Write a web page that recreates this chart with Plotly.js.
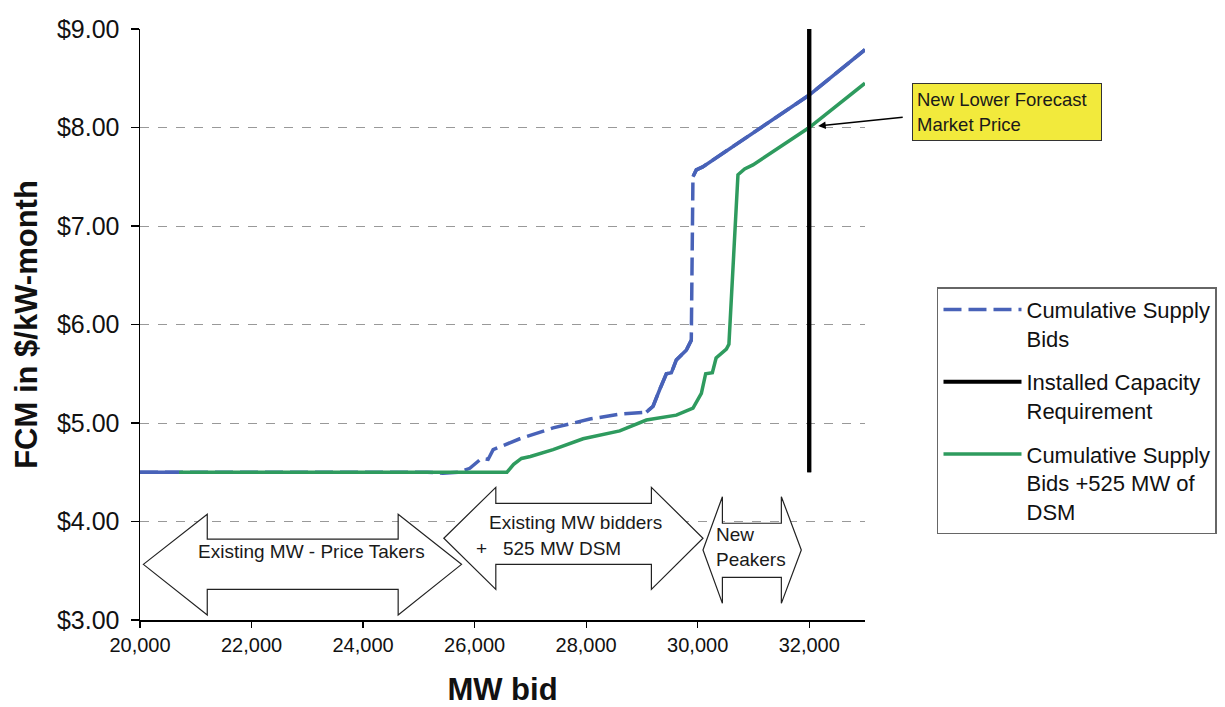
<!DOCTYPE html>
<html>
<head>
<meta charset="utf-8">
<script src="https://cdn.plot.ly/plotly-3.0.1.min.js"></script>
<style>html,body{margin:0;padding:0;background:#fff;}#chart{width:1225px;height:707px;}</style>
</head>
<body>
<div id="chart"></div>
<script>
// ---- data ----
var blueX = [20000, 20700, 25150, 25430, 25700, 25914, 26000, 26123, 26242, 26332, 26810, 27407, 28065, 28602, 29080, 29200, 29319, 29438, 29528, 29617, 29797, 29885, 29915, 29975, 30090, 32000, 33000];
var blueY = [4.50, 4.50, 4.50, 4.49, 4.50, 4.54, 4.58, 4.64, 4.63, 4.73, 4.84, 4.95, 5.04, 5.09, 5.11, 5.17, 5.34, 5.50, 5.51, 5.64, 5.74, 5.84, 7.50, 7.57, 7.60, 8.33, 8.79];
var blueSolidRanges = [[0, 1], [14, 21], [22, 26]];

var greenX = [20700, 26580, 26700, 26840, 27000, 27407, 27945, 28602, 29080, 29617, 29916, 30066, 30143, 30263, 30330, 30514, 30560, 30722, 30842, 30991, 32000, 33000];
var greenY = [4.50, 4.50, 4.58, 4.64, 4.66, 4.73, 4.84, 4.92, 5.03, 5.08, 5.15, 5.30, 5.50, 5.51, 5.66, 5.75, 5.80, 7.52, 7.58, 7.62, 8.00, 8.45];

var reqX = [32000, 32000];
var reqY = [4.50, 9.05];

var seriesNames = ["Cumulative Supply<br>Bids", "Installed Capacity<br>Requirement", "Cumulative Supply<br>Bids +525 MW of<br>DSM"];

// block arrows: [leftTip, leftHead, rightHead, rightTip, yMid, headTop, headBottom, shaftTop, shaftBottom]
var arrowSpecs = [
  [20060, 21206, 24629, 25765, 3.565, 4.073, 3.05, 3.822, 3.31],
  [25448, 26380, 29170, 30095, 3.83, 4.347, 3.311, 4.185, 3.565],
  [30095, 30443, 31500, 31858, 3.711, 4.252, 3.169, 3.982, 3.433]
];

var xTickVals = [20000, 22000, 24000, 26000, 28000, 30000, 32000];
var yTickVals = [3, 4, 5, 6, 7, 8, 9];
var yTickText = yTickVals.map(function (v) { return '$' + v.toFixed(2); });

var BLUE = '#4862b8', GREEN = '#2e9b5e';
var FONT = 'Arial, "Liberation Sans", sans-serif';

var traces = [];
traces.push({
  x: blueX, y: blueY, mode: 'lines', name: seriesNames[0],
  legendgroup: 'a',
  line: {color: BLUE, width: 3.5, dash: '18px,7px'}, hoverinfo: 'skip'
});
blueSolidRanges.forEach(function (r) {
  traces.push({
    x: blueX.slice(r[0], r[1] + 1), y: blueY.slice(r[0], r[1] + 1), mode: 'lines',
    showlegend: false, legendgroup: 'a', line: {color: BLUE, width: 3.5}, hoverinfo: 'skip'
  });
});
traces.push({
  x: reqX, y: reqY, mode: 'lines', name: seriesNames[1],
  legendgroup: 'b',
  line: {color: '#000', width: 4}, hoverinfo: 'skip'
});
traces.push({
  x: greenX, y: greenY, mode: 'lines', name: seriesNames[2],
  legendgroup: 'c',
  line: {color: GREEN, width: 3.5}, hoverinfo: 'skip'
});
// redraw requirement line on top of the curves
traces.push({
  x: reqX, y: reqY, mode: 'lines', showlegend: false,
  legendgroup: 'b',
  line: {color: '#000', width: 4}, hoverinfo: 'skip'
});

function arrowPath(a) {
  var tl = a[0], hl = a[1], hr = a[2], tr = a[3], ym = a[4], ht = a[5], hb = a[6], st = a[7], sb = a[8];
  return 'M' + tl + ',' + ym + ' L' + hl + ',' + ht + ' L' + hl + ',' + st + ' L' + hr + ',' + st +
    ' L' + hr + ',' + ht + ' L' + tr + ',' + ym + ' L' + hr + ',' + hb + ' L' + hr + ',' + sb +
    ' L' + hl + ',' + sb + ' L' + hl + ',' + hb + ' Z';
}
var shapes = arrowSpecs.map(function (a) {
  return {type: 'path', xref: 'x', yref: 'y', path: arrowPath(a), fillcolor: '#fff',
    line: {color: '#222', width: 1.2}, layer: 'above'};
});

var annFont = {family: FONT, size: 19, color: '#1a1a1a'};
var annotations = [
  {x: 23084, y: 3.70, xref: 'x', yref: 'y', text: 'Existing MW - Price Takers', showarrow: false, font: annFont},
  {x: 26230, y: 3.985, xref: 'x', yref: 'y', xanchor: 'left', text: 'Existing MW bidders', showarrow: false, font: annFont},
  {x: 25990, y: 3.73, xref: 'x', yref: 'y', xanchor: 'left', text: '+\u00a0\u00a0\u00a0525 MW DSM', showarrow: false, font: annFont},
  {x: 30300, y: 3.746, xref: 'x', yref: 'y', xanchor: 'left', align: 'left', text: 'New<br>Peakers', showarrow: false, font: annFont},
  {x: 1.1952, y: 0.8604, xref: 'paper', yref: 'paper', xanchor: 'center', yanchor: 'middle', align: 'left',
    text: 'New Lower Forecast<br>Market Price', showarrow: false, font: {family: FONT, size: 18.5, color: '#1a1a1a'},
    bgcolor: '#f2ea3c', bordercolor: '#333', borderwidth: 1, borderpad: 4, width: 180, height: 48},
  {x: 32161, y: 8.015, xref: 'x', yref: 'y', text: '', showarrow: true, ax: 86, ay: -9,
    arrowhead: 2, arrowsize: 1, arrowwidth: 1.5, arrowcolor: '#000'}
];

var layout = {
  width: 1225, height: 707,
  margin: {l: 140, r: 360, t: 29, b: 87, autoexpand: false},
  paper_bgcolor: '#fff', plot_bgcolor: '#fff',
  font: {family: FONT, color: '#111'},
  showlegend: true,
  legend: {
    x: 1.0993, y: 0.563, xanchor: 'left', yanchor: 'top',
    bordercolor: '#666', borderwidth: 1.5, bgcolor: '#fff',
    font: {family: FONT, size: 22, color: '#111'},
    valign: 'top', traceorder: 'grouped', tracegroupgap: 12, itemwidth: 78
  },
  xaxis: {
    range: [20000, 33000], tickvals: xTickVals, tickformat: ',d',
    ticks: 'outside', ticklen: 6, tickcolor: '#000', tickwidth: 1.2,
    showline: true, linecolor: '#000', linewidth: 1.5, showgrid: false, zeroline: false,
    tickfont: {family: FONT, size: 20, color: '#111'},
    title: {text: '<b>MW bid</b>', font: {family: FONT, size: 31, color: '#111'}, standoff: 30}
  },
  yaxis: {
    range: [3, 9], tickmode: 'array', tickvals: yTickVals, ticktext: yTickText,
    ticks: 'outside', ticklen: 8, tickcolor: '#000', tickwidth: 1.2, ticklabelstandoff: 6,
    showline: true, linecolor: '#000', linewidth: 1.5, zeroline: false,
    showgrid: true, gridcolor: '#999', griddash: 'dash', gridwidth: 1,
    tickfont: {family: FONT, size: 25, color: '#111'},
    title: {text: '<b>FCM in $/kW-month</b>', font: {family: FONT, size: 31, color: '#111'}, standoff: 10}
  },
  shapes: shapes,
  annotations: annotations
};

Plotly.newPlot('chart', traces, layout, {displayModeBar: false, staticPlot: true});
</script>
</body>
</html>
